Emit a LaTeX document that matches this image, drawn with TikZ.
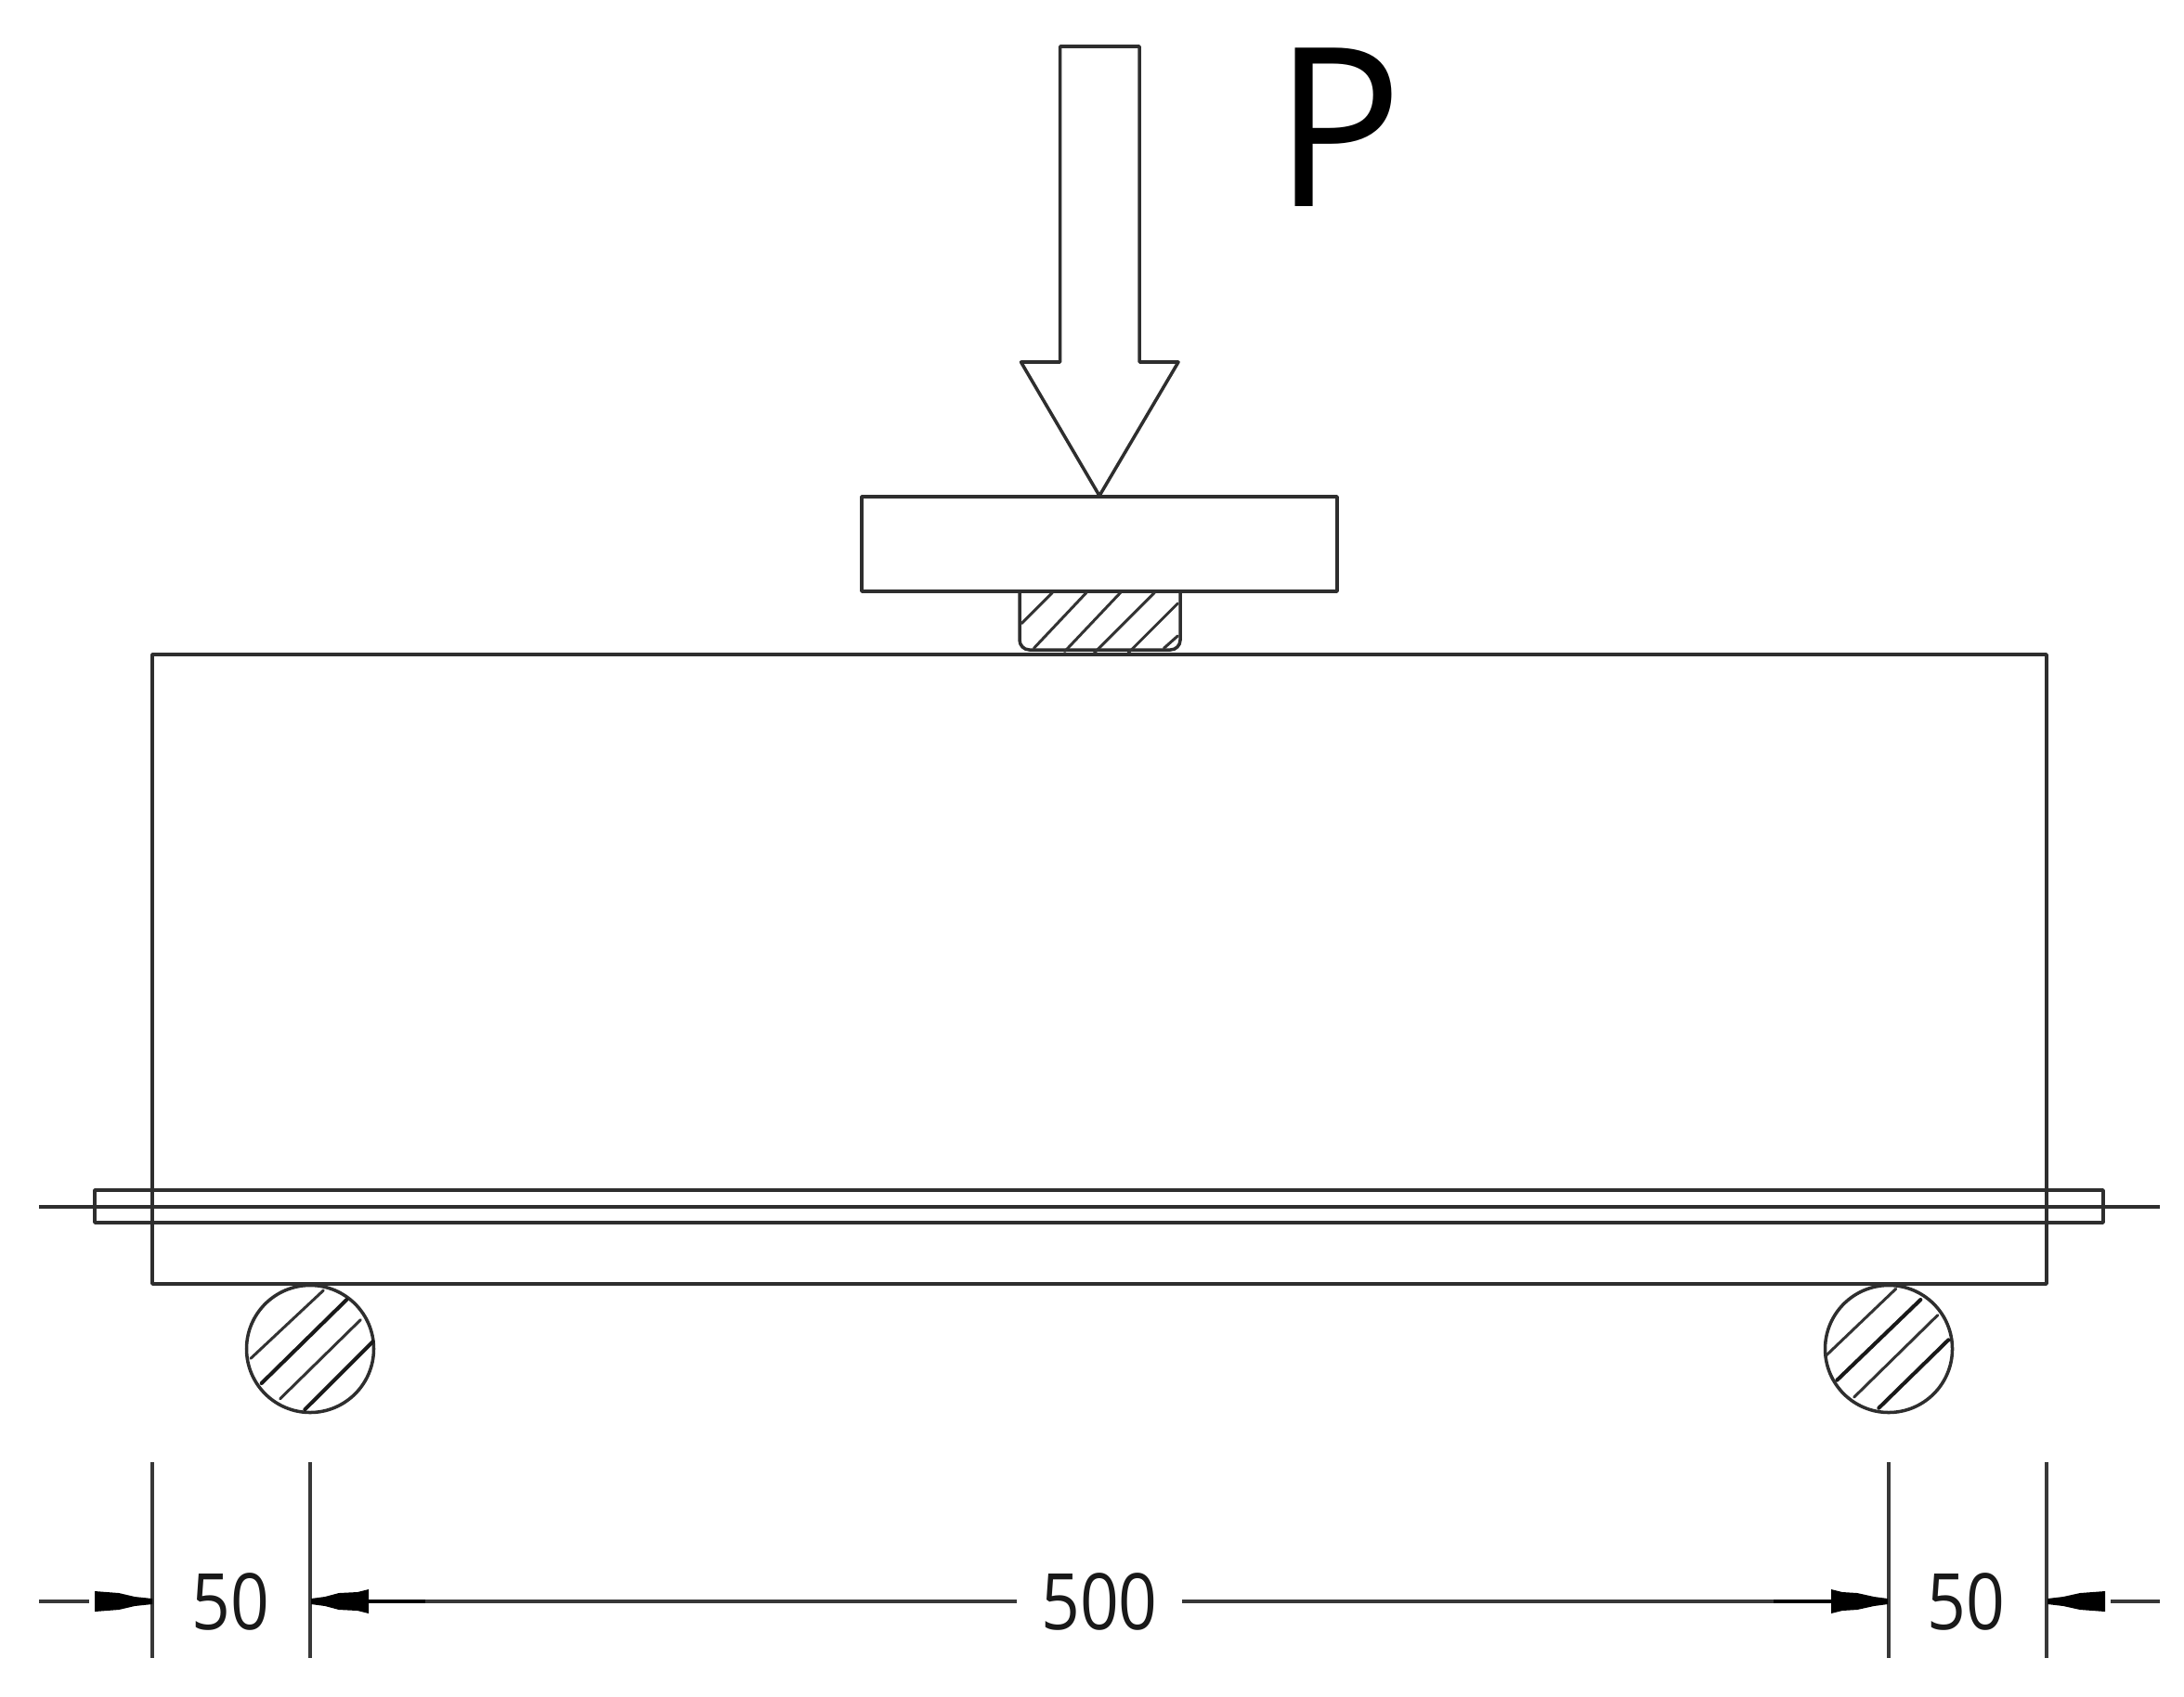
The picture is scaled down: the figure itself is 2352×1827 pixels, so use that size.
\documentclass[tikz,border=0pt]{standalone}
\usepackage{fontspec}
\setmainfont{Open Sans}
\tikzset{
  part/.style={line width=1pt,draw=black!82,line join=round},
  hatchline/.style={line width=0.85pt,draw=black!80,line cap=round},
  hatchheavy/.style={line width=1.15pt,draw=black!90,line cap=round},
  thinl/.style={line width=1pt,draw=black!78},
  thickl/.style={line width=1.4pt,draw=black},
  tiphead/.style={fill=black,draw=none},
  dimtext/.style={inner sep=0pt,xscale=0.87,font=\fontsize{23.9pt}{26pt}\selectfont,text=black!90},
}
\begin{document}
\begin{tikzpicture}[x=0.01cm,y=-0.01cm]
\useasboundingbox (0,0) rectangle (2352,1827);
% load arrow
\draw[part] (1141.5,50) -- (1227,50) -- (1227,390) -- (1269,390) -- (1184,534) -- (1099.5,390) -- (1141.5,390) -- cycle;
\node[inner sep=0pt,anchor=base,xscale=0.96,font=\fontsize{68pt}{70pt}\selectfont] (load) at (1442,222) {P};
% plate
\draw[part] (928,535) rectangle (1440,637);
% block
\draw[part,rounded corners=3pt] (1098,637) -- (1098,700) -- (1271,700) -- (1271,637);
\foreach \a/\b/\c/\d in {150/515/250/415,190/595/360/415,290/605/470/415,385/610/580/415,495/610/655/450,610/595/655/555}
  \draw[hatchline] ({1050+\a/3},{500+\b/3}) -- ({1050+\c/3},{500+\d/3});
% beam
\draw[part] (164,705) rectangle (2204,1383);
% rebar
\draw[part] (102,1282) rectangle (2265,1317);
\draw[part] (42,1300) -- (2326,1300);
% rollers
\draw[part] (334,1453) circle (68.5);
\draw[part] (2034,1453) circle (68.5);
\draw[hatchline] (270,1463.3) -- (348.3,1390);
\draw[hatchheavy] (281.7,1490) -- (373.3,1400);
\draw[hatchline] (301.7,1506.7) -- (388.3,1421.7);
\draw[hatchheavy] (328.3,1518.3) -- (401.7,1445);
\draw[hatchline] (1966.7,1460) -- (2041.7,1388.3);
\draw[hatchheavy] (1978.3,1486.7) -- (2068.3,1400);
\draw[hatchline] (1996.7,1505) -- (2086.7,1416.7);
\draw[hatchheavy] (2023.3,1516.7) -- (2098.3,1443.3);
% extension lines
\foreach \x in {164,334,2034,2204}
  \draw[thinl] (\x,1575) -- (\x,1786);
% dimension lines
\draw[thinl] (42,1725) -- (96,1725);
\draw[thinl] (2273,1725) -- (2326,1725);
\draw[thinl] (458,1725) -- (1095,1725);
\draw[thinl] (1273,1725) -- (1910,1725);
\draw[thickl] (397,1725) -- (458,1725);
\draw[thickl] (1910,1725) -- (1972,1725);
% arrowheads
\fill[tiphead] (164,1722) -- (145,1720) -- (128,1716) -- (102,1714) -- (102,1736) -- (128,1734) -- (145,1730) -- (164,1728) -- cycle;
\fill[tiphead] (335,1722) -- (350,1720) -- (365,1716) -- (385,1715) -- (397,1712) -- (397,1738) -- (385,1735) -- (365,1734) -- (350,1730) -- (335,1728) -- cycle;
\fill[tiphead] (2033,1722) -- (2018,1720) -- (2000,1716) -- (1984,1715) -- (1972,1712) -- (1972,1738) -- (1984,1735) -- (2000,1734) -- (2018,1730) -- (2033,1728) -- cycle;
\fill[tiphead] (2205,1722) -- (2222,1720) -- (2240,1716) -- (2267,1714) -- (2267,1736) -- (2240,1734) -- (2222,1730) -- (2205,1728) -- cycle;
% dimension labels
\node[dimtext] (d1) at (248,1725) {50};
\node[dimtext] (d2) at (1184,1725) {500};
\node[dimtext] (d3) at (2117,1725) {50};
\end{tikzpicture}
\end{document}
